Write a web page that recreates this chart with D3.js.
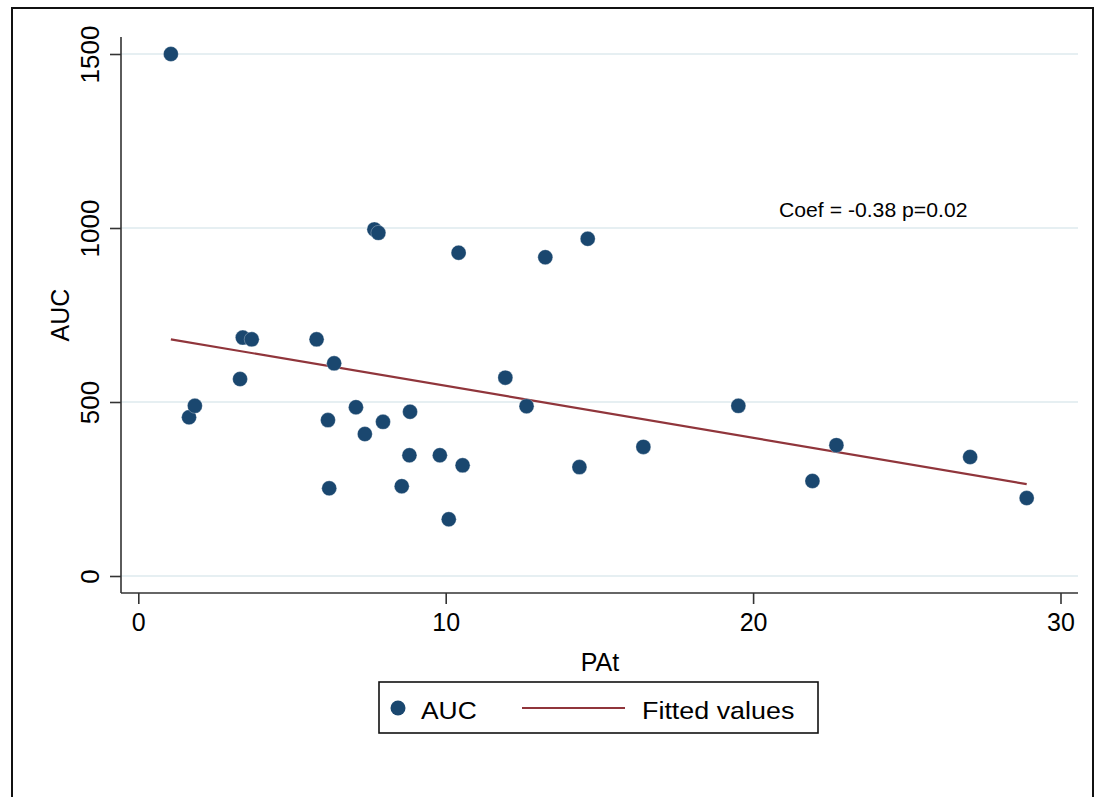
<!DOCTYPE html>
<html>
<head>
<meta charset="utf-8">
<script src="https://cdn.jsdelivr.net/npm/d3@7"></script>
<style>
  html, body { margin: 0; padding: 0; background: #fff; }
  svg { display: block; font-family: "Liberation Sans", Arial, Helvetica, sans-serif; }
</style>
</head>
<body>
<svg id="chart" width="1096" height="797"></svg>
<script>
// ---- Data ----
const patValues = [1.06, 1.65, 1.84, 3.31, 3.40, 3.69, 5.80, 6.37, 6.17, 6.21, 7.08, 7.37, 7.68, 7.81, 7.96, 8.57, 8.82, 8.84, 9.81, 10.10, 10.42, 10.55, 11.94, 12.63, 13.24, 14.35, 14.62, 16.43, 19.52, 21.93, 22.71, 27.06, 28.90];
const aucValues = [1500, 456, 489, 566, 685, 680, 680, 611, 448, 252, 485, 408, 996, 986, 443, 258, 347, 472, 347, 163, 929, 318, 570, 488, 916, 313, 969, 371, 489, 273, 376, 342, 224];
const fitX = [1.06, 28.90];
const fitY = [680, 264];
const xTicks = [0, 10, 20, 30];
const yTicks = [0, 500, 1000, 1500];
const xTitle = "PAt";
const yTitle = "AUC";
const legendLabels = ["AUC", "Fitted values"];
const annotation = "Coef = -0.38 p=0.02";

// ---- Layout ----
const svg = d3.select("#chart");
const plotLeft = 121, plotRight = 1078, plotTop = 37, plotBottom = 593;
const x = d3.scaleLinear().domain([0, 30]).range([138.3, 1060.5]);
const y = d3.scaleLinear().domain([0, 1500]).range([576, 54]);
const dotColor = "#1a476f";
const lineColor = "#90353b";
const axisColor = "#333";

// outer frame
svg.append("rect")
  .attr("x", 12).attr("y", 8).attr("width", 1081).attr("height", 820)
  .attr("fill", "none").attr("stroke", "#111").attr("stroke-width", 2);

// gridlines
svg.append("g").selectAll("line").data(yTicks).join("line")
  .attr("x1", plotLeft).attr("x2", plotRight)
  .attr("y1", d => y(d)).attr("y2", d => y(d))
  .attr("stroke", "#e6eff2").attr("stroke-width", 1.8);

// y axis
const yAxis = d3.axisLeft(y).tickValues(yTicks).tickSize(11).tickPadding(0).tickFormat(d3.format("d"));
const gy = svg.append("g").attr("transform", `translate(${plotLeft},0)`).call(yAxis);
gy.select(".domain").attr("d", `M0,${plotTop}V${plotBottom}`).attr("stroke", axisColor).attr("stroke-width", 1.6);
gy.selectAll(".tick line").attr("stroke", axisColor).attr("stroke-width", 1.6);
gy.selectAll(".tick text")
  .attr("x", 0).attr("dy", null)
  .attr("transform", "translate(-22,0) rotate(-90) scale(1.04,1)")
  .attr("text-anchor", "middle")
  .attr("font-size", 25).attr("fill", "#000")
  .attr("font-family", "'Liberation Sans', Arial, sans-serif");

// x axis
const xAxis = d3.axisBottom(x).tickValues(xTicks).tickSize(11).tickPadding(0).tickFormat(d3.format("d"));
const gx = svg.append("g").attr("transform", `translate(0,${plotBottom})`).call(xAxis);
gx.select(".domain").attr("d", `M${plotLeft},0H${plotRight}`).attr("stroke", axisColor).attr("stroke-width", 1.6);
gx.selectAll(".tick line").attr("stroke", axisColor).attr("stroke-width", 1.6);
gx.selectAll(".tick text")
  .attr("y", 38).attr("dy", null)
  .attr("font-size", 25).attr("fill", "#000")
  .attr("font-family", "'Liberation Sans', Arial, sans-serif");

// axis titles
svg.append("text")
  .attr("transform", "translate(69,315) rotate(-90)")
  .attr("text-anchor", "middle").attr("font-size", 25).attr("fill", "#000")
  .text(yTitle);
svg.append("text")
  .attr("x", 600).attr("y", 671)
  .attr("text-anchor", "middle").attr("font-size", 25).attr("fill", "#000")
  .text(xTitle);

// fitted line
const fitData = fitX.map((v, i) => [v, fitY[i]]);
svg.append("path")
  .datum(fitData)
  .attr("d", d3.line().x(d => x(d[0])).y(d => y(d[1])))
  .attr("fill", "none").attr("stroke", lineColor).attr("stroke-width", 2.2);

// points
const pts = patValues.map((v, i) => ({ x: v, y: aucValues[i] }));
svg.append("g").selectAll("circle").data(pts).join("circle")
  .attr("cx", d => x(d.x)).attr("cy", d => y(d.y))
  .attr("r", 7.5)
  .attr("fill", dotColor)
  .attr("stroke", "#fff").attr("stroke-width", 0.5).attr("stroke-opacity", 0.6);

// annotation
svg.append("text")
  .attr("transform", "translate(779,217) scale(1.06,1)")
  .attr("font-size", 20).attr("fill", "#000")
  .text(annotation);

// legend
const lg = svg.append("g");
lg.append("rect")
  .attr("x", 379).attr("y", 682).attr("width", 439).attr("height", 51)
  .attr("fill", "#fff").attr("stroke", "#111").attr("stroke-width", 1.6);
lg.append("circle").attr("cx", 398).attr("cy", 708).attr("r", 7.5).attr("fill", dotColor);
lg.append("text").attr("transform", "translate(421,719) scale(1.1,1)").attr("font-size", 24).attr("fill", "#000").text(legendLabels[0]);
lg.append("line").attr("x1", 522).attr("x2", 625).attr("y1", 708).attr("y2", 708)
  .attr("stroke", lineColor).attr("stroke-width", 2.2);
lg.append("text").attr("transform", "translate(642,719) scale(1.12,1)").attr("font-size", 24).attr("fill", "#000").text(legendLabels[1]);
</script>
</body>
</html>
